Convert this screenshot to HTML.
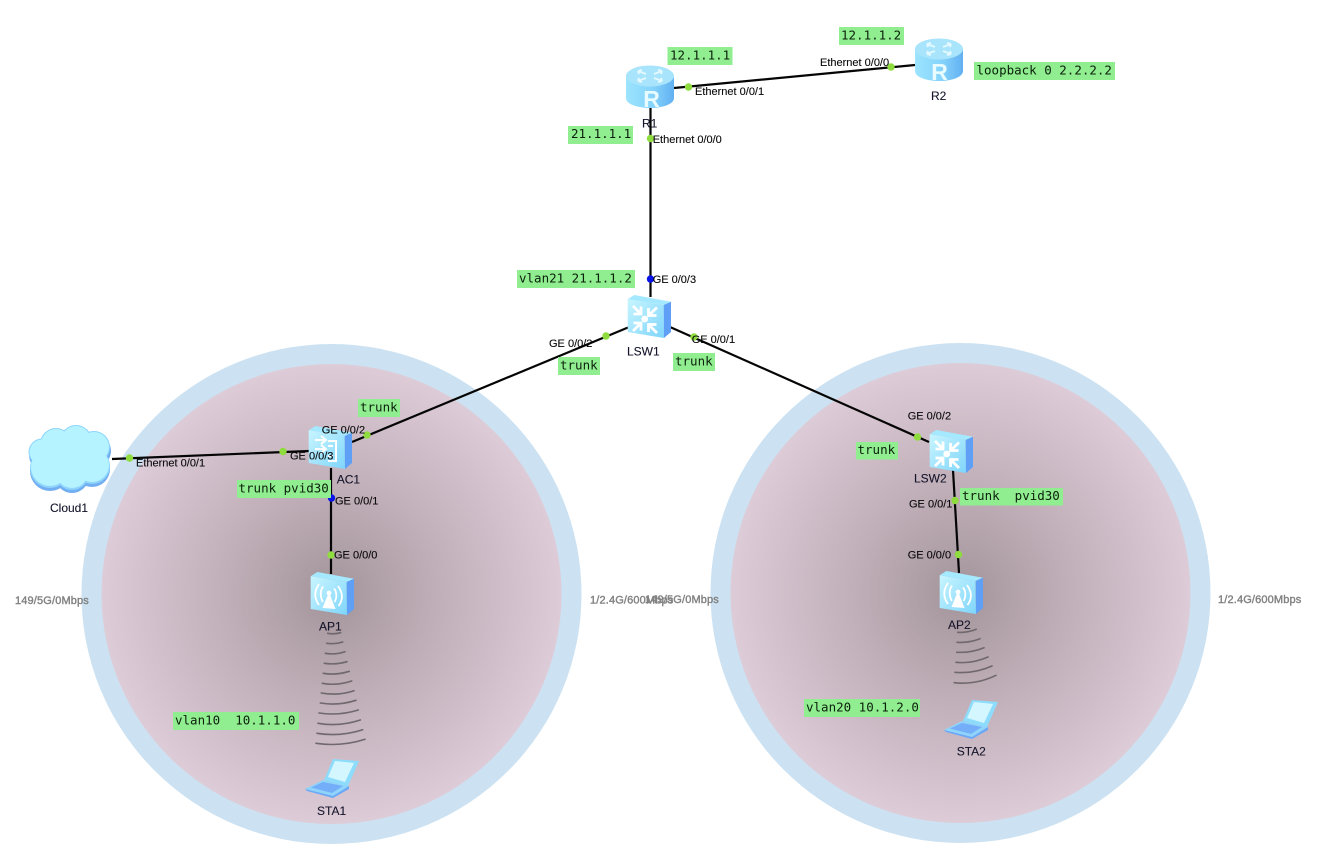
<!DOCTYPE html>
<html><head><meta charset="utf-8"><title>Network diagram</title>
<style>
html,body{margin:0;padding:0;background:#fff}
svg{display:block}
.p{font:11px "Liberation Sans",Arial,sans-serif;fill:#0a0a0a;stroke:#0a0a0a;stroke-width:.12}
.d{font:12px "Liberation Sans",Arial,sans-serif;fill:#14142a;stroke:#14142a;stroke-width:.1}
.r{font:11px "Liberation Sans",Arial,sans-serif;fill:#828282;stroke:#828282;stroke-width:.4;letter-spacing:.15px}
.m{font:12.5px "DejaVu Sans Mono","Liberation Mono",monospace;fill:#0c200c;white-space:pre}
.b{fill:#90ee90}
.l{stroke:#050505;stroke-width:2.2;fill:none}
.g{fill:#8edc3e}
.u{fill:#0a14e8}
.a{stroke:#6f686c;stroke-width:1.600;fill:none;stroke-linecap:round}
.R{font:bold 23px "Liberation Sans",Arial,sans-serif;fill:#e8fbff;text-anchor:middle}
</style></head><body>
<svg width="1323" height="867" viewBox="0 0 1323 867" xmlns="http://www.w3.org/2000/svg">
<defs>
<radialGradient id="rg"><stop offset="0" stop-color="#a3949a"/><stop offset=".45" stop-color="#bfaeb7"/><stop offset="1" stop-color="#ddccd8"/></radialGradient>
<linearGradient id="rb" x1="0" x2="1" y1="0" y2="0"><stop offset="0" stop-color="#9ce4ff"/><stop offset=".55" stop-color="#86d4fb"/><stop offset="1" stop-color="#62b0f2"/></linearGradient>
<linearGradient id="ff" x1="0" x2="1" y1="0" y2="1"><stop offset="0" stop-color="#c8f5ff"/><stop offset="1" stop-color="#7fd5fb"/></linearGradient>
<g id="box">
<polygon points=".7,4.3 7.3,0 44,6.7 36.7,10" fill="#a4e9ff"/>
<polygon points=".7,4.3 36.7,10 37,43 .7,37" fill="url(#ff)"/>
<polygon points="36.7,10 44,6.7 44,37 37,43" fill="#5f9ff5"/>
</g>
<g id="router">
<path d="M0 11V33C0 39 11 43 24 43S48 39 48 33V11Z" fill="url(#rb)"/>
<ellipse cx="24" cy="11" rx="24" ry="10.500" fill="#a8e4fb"/>
<g stroke="#e4f8ff" stroke-width="2" fill="none">
<path d="M12 6L20 9M12 6l4-1M12 6l1 3M36 6L28 9M36 6l-4-1M36 6l-1 3M12 16l8-3M12 16l4 1M12 16l1-3M36 16l-8-3M36 16l-4 1M36 16l-1-3"/>
</g>
</g>
<g id="sw">
<use href="#box"/>
<g stroke="#fff" stroke-width="2.800" fill="none">
<path d="M6 11L13.500 18.500M14 11.500v7.500H6.500"/>
<path d="M30 12.500L22 20M21.500 13v7.500h8"/>
<path d="M6 36L13.500 28.500M6.500 28h7.500v7.500"/>
<path d="M30 38L22 30M21.500 37v-7.500h8"/>
</g>
<circle cx="17.7" cy="24" r="3.400" fill="#fff"/>
</g>
<g id="ap">
<use href="#box"/>
<g stroke="#fff" stroke-width="1.800" fill="none">
<path d="M9 12C4 19 4 26 9 33M13 14.500C10 19 10 25 13 30M28 14C33 21 33 28 28.500 34M24 16.500C27 20 27 26 24.500 30"/>
</g>
<polygon points="19,20 12.500,36 25.500,37" fill="#fff"/>
<circle cx="19" cy="21" r="2.400" fill="#fff"/>
</g>
<g id="laptop">
<polygon points="0,31 18,22 44,28 28,38" fill="#8fd4fb"/>
<polygon points="0,31 28,38 44,28 44,31 28,40 2,33" fill="#6aa8f8"/>
<polygon points="6,29.500 18,24 38,28 27,35" fill="#74aef9"/>
<polygon points="28,1 54,3 43,28 19,22" fill="#8edcfb"/>
<polygon points="30,3 49,5 40,24 23,19" fill="#d4f7ff"/>
</g>
</defs>

<circle cx="331.500" cy="594" r="250" fill="#cce2f2"/>
<circle cx="331.500" cy="594" r="230" fill="url(#rg)"/>
<circle cx="960.500" cy="593" r="250" fill="#cce2f2"/>
<circle cx="960.500" cy="593" r="230" fill="url(#rg)"/>

<g class="a">
<path d="M327.700 633.300Q334 634.500 340.700 632.700"/>
<path d="M326.700 643.300Q335 644.500 342.700 642"/>
<path d="M325.300 653.300Q335 655 345 651.700"/>
<path d="M324.300 663.300Q336 665 347 661.700"/>
<path d="M323.300 673.300Q336 675.500 349.300 671.300"/>
<path d="M322.300 683.300Q337 686 351.700 681"/>
<path d="M321.300 693Q338 696 354 690.700"/>
<path d="M320.300 703Q338 706 356 700.300"/>
<path d="M319 713Q339 716 358.300 710"/>
<path d="M318 723.300Q339 727 360.300 720"/>
<path d="M317 733.300Q340 737 362.700 729.700"/>
<path d="M316 743.300Q341 747 365 739.300"/>
<path d="M957.700 632.300Q967 633 976.300 629.300"/>
<path d="M957 642.300Q969 643 980 638.700"/>
<path d="M956.700 652.300Q971 653 984 647.700"/>
<path d="M956 662.300Q972 664 988 657"/>
<path d="M955 672.300Q974 674 992 666"/>
<path d="M954.300 682.700Q976 685 996 675.300"/>
</g>

<g class="l">
<line x1="674" y1="88" x2="915" y2="65"/>
<line x1="650.500" y1="106" x2="650.500" y2="297"/>
<line x1="628" y1="327.500" x2="352" y2="442"/>
<line x1="670" y1="327" x2="929" y2="442"/>
<line x1="112" y1="459" x2="309" y2="451"/>
<line x1="331" y1="468" x2="331" y2="574"/>
<line x1="953" y1="470" x2="959" y2="573"/>
</g>

<use href="#router" x="626" y="65"/>
<text class="R" x="651.500" y="107">R</text>
<use href="#router" x="915" y="38"/>
<text class="R" x="939.500" y="80">R</text>

<use href="#sw" x="627" y="295"/>
<use href="#sw" x="929" y="430"/>

<use href="#box" x="308" y="426"/>
<g stroke="#fff" stroke-width="2" fill="none">
<path d="M315 440h11M321 436l5 4-5 4M315 449h11M321 445l5 4-5 4"/>
<path d="M328 441h8v20h-8M333 446h-5M333 456h-5"/>
</g>

<use href="#ap" x="310" y="572"/>
<use href="#ap" x="939" y="571"/>

<use href="#laptop" x="305" y="758"/>
<use href="#laptop" x="944" y="699"/>

<g>
<g fill="#72aef2">
<circle cx="50" cy="471" r="20"/><circle cx="72" cy="476" r="17"/><circle cx="92" cy="469" r="18"/>
<circle cx="46" cy="455" r="17"/><circle cx="72" cy="455" r="24"/><circle cx="95" cy="451" r="16"/>
</g>
<g fill="#8ed4fb">
<circle cx="50" cy="468" r="20"/><circle cx="72" cy="473" r="17"/><circle cx="92" cy="466" r="18"/>
<circle cx="42" cy="452" r="13.500"/><circle cx="56" cy="444" r="16"/><circle cx="76" cy="441" r="16"/>
<circle cx="94" cy="447" r="16"/><circle cx="72" cy="457" r="22"/>
</g>
<g fill="#b4f3ff">
<circle cx="50" cy="467" r="19"/><circle cx="72" cy="472" r="16"/><circle cx="92" cy="465" r="17"/>
<circle cx="42" cy="452" r="12.500"/><circle cx="56" cy="444" r="15"/><circle cx="76" cy="441" r="15"/>
<circle cx="94" cy="447" r="15"/><circle cx="72" cy="457" r="22"/>
</g>
</g>

<circle class="g" cx="688.500" cy="87" r="3.700"/>
<circle class="g" cx="891" cy="67" r="3.700"/>
<circle class="g" cx="650.500" cy="138.500" r="3.700"/>
<circle class="u" cx="650.500" cy="279" r="3.700"/>
<circle class="g" cx="606" cy="336" r="3.700"/>
<circle class="g" cx="694" cy="337" r="3.700"/>
<circle class="g" cx="367" cy="435" r="3.700"/>
<circle class="g" cx="283" cy="451.500" r="3.700"/>
<circle class="g" cx="129.500" cy="458" r="3.700"/>
<circle class="u" cx="331.500" cy="498" r="3.700"/>
<circle class="g" cx="331" cy="555" r="3.700"/>
<circle class="g" cx="917.500" cy="437" r="3.700"/>
<circle class="g" cx="955" cy="500.500" r="3.700"/>
<circle class="g" cx="958.500" cy="554.500" r="3.700"/>

<rect class="b" x="667.500" y="47" width="65" height="18"/><text class="m" x="670" y="59.500">12.1.1.1</text>
<rect class="b" x="568" y="126" width="65" height="18"/><text class="m" x="571" y="138">21.1.1.1</text>
<rect class="b" x="839" y="27" width="65" height="18"/><text class="m" x="841" y="39.500">12.1.1.2</text>
<rect class="b" x="974" y="62" width="141" height="18"/><text class="m" x="976.500" y="74.500">loopback 0 2.2.2.2</text>
<rect class="b" x="517" y="270" width="118" height="18"/><text class="m" x="519" y="282.500">vlan21 21.1.1.2</text>
<rect class="b" x="558" y="357" width="42" height="18"/><text class="m" x="560" y="369.500">trunk</text>
<rect class="b" x="673" y="353" width="42" height="18"/><text class="m" x="675" y="365.500">trunk</text>
<rect class="b" x="358" y="399" width="42" height="18"/><text class="m" x="360" y="411.500">trunk</text>
<rect class="b" x="237" y="480" width="94" height="18"/><text class="m" x="238.500" y="492.500">trunk pvid30</text>
<rect class="b" x="856" y="442" width="42" height="17.500"/><text class="m" x="857.500" y="454">trunk</text>
<rect class="b" x="960" y="488" width="103" height="17.500"/><text class="m" x="962" y="500">trunk  pvid30</text>
<rect class="b" x="173" y="712" width="126" height="18"/><text class="m" x="175" y="724.500">vlan10  10.1.1.0</text>
<rect class="b" x="804" y="699" width="116" height="18"/><text class="m" x="806" y="711.500">vlan20 10.1.2.0</text>

<text class="p" x="695" y="95">Ethernet 0/0/1</text>
<text class="p" x="652.700" y="143">Ethernet 0/0/0</text>
<text class="p" x="820" y="66">Ethernet 0/0/0</text>
<text class="p" x="652.700" y="283">GE 0/0/3</text>
<text class="p" x="549" y="347">GE 0/0/2</text>
<text class="p" x="691.700" y="343">GE 0/0/1</text>
<text class="p" x="321.700" y="433.700">GE 0/0/2</text>
<text class="p" x="290" y="459.700">GE 0/0/3</text>
<text class="p" x="335" y="504.700">GE 0/0/1</text>
<text class="p" x="136" y="466.700">Ethernet 0/0/1</text>
<text class="p" x="334" y="558.700">GE 0/0/0</text>
<text class="p" x="907.700" y="419.700">GE 0/0/2</text>
<text class="p" x="909" y="507.700">GE 0/0/1</text>
<text class="p" x="907.700" y="558.300">GE 0/0/0</text>

<text class="d" x="642" y="127.700">R1</text>
<text class="d" x="931" y="100">R2</text>
<text class="d" x="627" y="355.700">LSW1</text>
<text class="d" x="336.700" y="483.700">AC1</text>
<text class="d" x="50" y="512">Cloud1</text>
<text class="d" x="319" y="630.700">AP1</text>
<text class="d" x="317" y="815">STA1</text>
<text class="d" x="914" y="482.700">LSW2</text>
<text class="d" x="948" y="629">AP2</text>
<text class="d" x="956.700" y="755.700">STA2</text>

<text class="r" x="15" y="604">149/5G/0Mbps</text>
<text class="r" x="590" y="603.500">1/2.4G/600Mbps</text>
<text class="r" x="645" y="603">149/5G/0Mbps</text>
<text class="r" x="1218" y="603">1/2.4G/600Mbps</text>
</svg>
</body></html>
